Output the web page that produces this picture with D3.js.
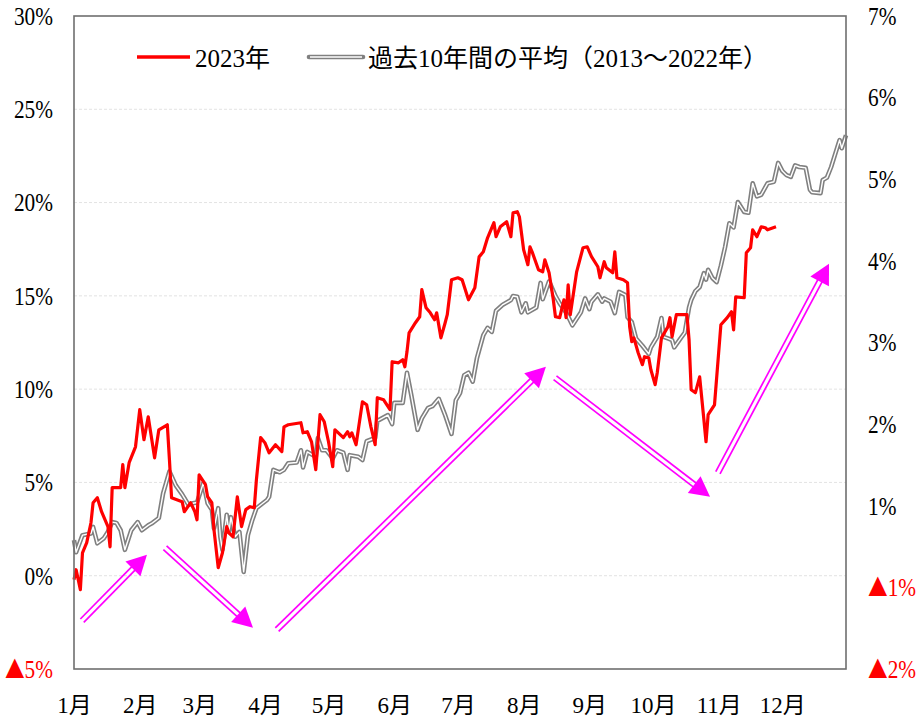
<!DOCTYPE html>
<html><head><meta charset="utf-8">
<script src="https://cdn.jsdelivr.net/npm/d3@7"></script>
<style>
html,body{margin:0;padding:0;background:#fff;}
svg{display:block;}
</style></head><body>
<svg id="chart" width="920" height="718"></svg>
<script>
// ---------- data ----------
const monthLabels = ["1月","2月","3月","4月","5月","6月","7月","8月","9月","10月","11月","12月"];
const leftTicks = [30,25,20,15,10,5,0,-5];
const rightTicks = [7,6,5,4,3,2,1,0,-1];
const rightTickLabels = ["7%","6%","5%","4%","3%","2%","1%","▲1%","▲2%"];
const seriesNames = ["2023年","過去10年間の平均（2013～2022年）"];

// 2023 (left axis, %), x = day of year (0 = Jan 1)
const redDays = [0,1,3,4,6,8,9,11,13,16,17,18,22,23,24,26,29,31,33,35,38,40,44,45,46,51,52,55,57,58,59,62,63,65,66,68,70,72,73,75,77,79,81,83,85,86,88,90,92,95,98,99,101,107,108,110,112,114,116,118,120,122,123,124,127,129,130,131,133,136,138,140,142,143,146,149,150,153,155,156,157,158,161,163,164,166,168,170,171,173,175,176,178,181,183,186,189,191,193,195,198,199,201,204,206,207,209,210,212,214,215,216,219,221,222,224,226,227,229,231,232,233,234,237,240,242,244,247,248,250,251,254,255,256,259,261,262,263,264,266,268,269,271,272,274,275,277,280,281,282,284,289,290,291,293,295,297,298,299,302,305,308,310,311,312,316,317,319,320,322,324,326,327,331];
const redValues = [-0.21,0.32,-0.75,1.23,1.77,2.84,3.91,4.18,3.43,2.63,
1.55,4.72,4.72,5.95,4.72,6.06,6.91,8.90,7.29,8.52,
6.32,7.82,8.09,6.22,4.18,3.97,3.43,3.91,3.43,3.00,
5.41,4.88,4.23,3.91,2.47,0.43,1.23,2.63,2.30,2.09,
4.23,2.63,3.54,3.70,3.64,5.14,7.40,7.13,6.59,7.02,
6.65,7.98,8.09,8.20,7.66,7.72,7.18,5.68,8.63,8.25,
7.18,5.84,7.82,7.72,7.40,7.72,7.45,7.66,7.02,9.32,
9.16,7.98,7.02,9.54,9.43,8.90,11.47,11.41,11.58,11.20,
12.00,13.02,13.56,13.88,15.33,14.36,14.09,13.72,14.09,12.75,
13.56,13.99,15.86,15.97,15.86,14.79,15.43,17.09,17.36,18.11,
18.92,18.17,18.70,18.97,18.17,19.45,19.51,19.24,17.47,16.67,
17.63,17.36,16.40,16.29,16.93,16.24,14.79,13.88,13.83,14.79,
13.83,15.59,13.99,16.29,17.58,17.63,17.10,16.56,15.97,16.83,
16.51,16.24,17.36,15.97,15.86,15.70,13.34,12.54,12.75,11.95,
11.31,11.74,11.68,11.04,10.24,10.88,12.75,13.34,13.83,12.81,
13.99,13.99,12.65,9.97,9.81,10.66,8.36,7.18,8.63,9.16,
13.45,13.83,14.15,13.18,14.95,14.90,17.31,17.58,18.54,18.17,
18.70,18.65,18.54,18.70];

// 10-year average (right axis)
const avgDays = [0,1,4,8,9,11,14,16,18,20,
22,24,27,30,32,35,37,40,42,45,
48,51,54,56,58,61,63,65,66,68,
69,70,72,73,74,76,78,80,82,84,
86,89,91,92,94,97,99,101,105,107,
108,110,114,115,117,119,122,124,127,129,
130,134,136,138,142,143,148,150,151,155,
157,159,162,164,167,169,172,175,178,180,
182,184,186,188,190,193,195,197,199,202,
206,207,209,211,213,214,218,220,221,224,
227,229,232,235,239,241,243,244,247,249,
250,253,255,257,260,261,263,265,268,271,
272,275,277,278,280,282,283,286,288,290,
291,293,295,297,298,299,301,303,305,307,
309,311,313,314,316,318,320,322,324,327,
330,332,334,336,338,340,342,345,347,348,
352,353,355,357,360,361,362,364];
const avgValues = [0.58,0.43,0.64,0.66,0.74,0.54,0.60,0.68,0.80,0.79,
0.70,0.46,0.70,0.80,0.70,0.76,0.79,0.85,1.15,1.42,
1.25,1.14,1.01,1.03,1.04,1.28,1.03,0.95,0.72,0.97,
0.62,0.46,0.89,0.68,0.86,0.62,0.68,0.19,0.64,0.82,
0.97,1.03,1.07,1.11,1.44,1.41,1.44,1.52,1.53,1.68,
1.47,1.66,1.60,1.83,1.68,1.68,1.58,1.68,1.65,1.44,
1.62,1.60,1.56,1.79,1.83,2.04,2.11,2.00,2.26,2.26,
2.63,2.36,1.93,2.07,2.20,2.22,2.31,2.11,1.88,2.29,
2.38,2.60,2.63,2.52,2.81,3.09,3.18,3.13,3.39,3.46,
3.52,3.57,3.56,3.37,3.48,3.37,3.43,3.73,3.53,3.75,
3.57,3.48,3.37,3.21,3.37,3.54,3.41,3.50,3.59,3.50,
3.54,3.50,3.36,3.62,3.58,3.31,3.25,3.05,2.96,2.86,
2.94,3.07,3.30,3.07,3.05,3.03,2.94,3.05,3.12,3.43,
3.52,3.63,3.68,3.85,3.77,3.89,3.79,3.74,3.94,4.17,
4.46,4.41,4.72,4.68,4.60,4.59,4.95,4.79,4.81,4.95,
4.97,5.20,5.10,5.05,5.03,5.17,5.15,5.14,4.87,4.84,
4.83,4.99,5.02,5.15,5.40,5.48,5.38,5.54];

// trend arrows (day of year, left-axis %)
const arrowFromDay = [3.8, 42.9, 95.7, 226.8, 303.6];
const arrowFromValue = [-2.41, 1.50, -2.89, 10.61, 5.52];
const arrowToDay = [34.4, 84.4, 222.5, 299.9, 356.0];
const arrowToValue = [1.13, -2.79, 11.20, 4.23, 16.72];

// ---------- chart ----------
const W = 920, H = 718;
const M = {left:74, top:16, right:74, bottom:49};
const FONT = "'Liberation Serif','Noto Sans CJK JP',serif";
const CJK = "'Noto Sans CJK JP',sans-serif";
const RED = "#ff0000", GRAY = "#808080", MAG = "#ff00ff";
const base = new Date(2023,0,1);
const dayToDate = d => new Date(base.getTime() + d*86400000);

const svg = d3.select("#chart");
const x = d3.scaleTime().domain([dayToDate(0), dayToDate(364)]).range([M.left, W-M.right]);
const yL = d3.scaleLinear().domain([-5,30]).range([H-M.bottom, M.top]);
const yR = d3.scaleLinear().domain([-1,7]).range([H-M.bottom, M.top]);

// gridlines
svg.append("g").selectAll("line").data(leftTicks.filter(v => v>-5 && v<30)).join("line")
  .attr("x1", M.left).attr("x2", W-M.right)
  .attr("y1", d=>yL(d)).attr("y2", d=>yL(d))
  .attr("stroke", "#e3e3e3").attr("stroke-width", 1).attr("stroke-dasharray","3,2");

const SX = 0.82;
const fmtL = v => v < 0 ? "▲" + Math.abs(v) + "%" : v + "%";

// render "▲" in a full-width CJK glyph
function styleTicks(sel) {
  sel.each(function() {
    const t = d3.select(this);
    const s = t.text();
    t.attr("font-family", FONT).attr("font-size", 26).attr("transform", `scale(${SX},1)`);
    if (s.startsWith("▲")) {
      t.text("").attr("fill", RED);
      t.append("tspan").attr("font-family", CJK).attr("font-size", 24).text("▲");
      t.append("tspan").text(s.slice(1));
    } else {
      t.attr("fill", "#000");
    }
  });
}

// left axis
const gL = svg.append("g").attr("transform", `translate(${M.left},0)`)
  .call(d3.axisLeft(yL).tickValues(leftTicks).tickFormat(fmtL).tickSize(0).tickPadding(21/SX));
gL.select(".domain").remove();
styleTicks(gL.selectAll("text"));

// right axis
const gR = svg.append("g").attr("transform", `translate(${W-M.right},0)`)
  .call(d3.axisRight(yR).tickValues(rightTicks).tickFormat((d,i)=>rightTickLabels[i]).tickSize(0).tickPadding(22/SX));
gR.select(".domain").remove();
styleTicks(gR.selectAll("text"));

// bottom axis (months)
const monthStarts = d3.timeMonth.range(new Date(2023,0,1), new Date(2024,0,1));
const gB = svg.append("g").attr("transform", `translate(0,${H-M.bottom})`)
  .call(d3.axisBottom(x).tickValues(monthStarts).tickFormat((d,i)=>monthLabels[i]).tickSize(0).tickPadding(28));
gB.select(".domain").remove();
gB.selectAll("text").attr("font-family", FONT).attr("font-size", 23).attr("fill", "#000");

// lines
const avgData = avgDays.map((d,i)=>({d, v:avgValues[i]}));
const redData = redDays.map((d,i)=>({d, v:redValues[i]}));
const lineR = d3.line().x(p=>x(dayToDate(p.d))).y(p=>yR(p.v));
const lineL = d3.line().x(p=>x(dayToDate(p.d))).y(p=>yL(p.v));

svg.append("path").datum(avgData).attr("d", lineR).attr("fill","none")
  .attr("stroke", GRAY).attr("stroke-width", 4.6).attr("stroke-linejoin","round");
svg.append("path").datum(avgData).attr("d", lineR).attr("fill","none")
  .attr("stroke", "#fff").attr("stroke-width", 1.4).attr("stroke-linejoin","round");
svg.append("path").datum(redData).attr("d", lineL).attr("fill","none")
  .attr("stroke", RED).attr("stroke-width", 3.2).attr("stroke-linejoin","round");

// arrows
const gA = svg.append("g");
arrowFromDay.forEach((fd,i)=>{
  const x1 = x(dayToDate(fd)), y1 = yL(arrowFromValue[i]);
  const x2 = x(dayToDate(arrowToDay[i])), y2 = yL(arrowToValue[i]);
  const dx = x2-x1, dy = y2-y1, L = Math.hypot(dx,dy);
  const ux = dx/L, uy = dy/L, nx = -uy, ny = ux;
  const headL = 20, headW = 10.5, off = 2.4;
  const bx = x2 - ux*headL, by = y2 - uy*headL;
  [-1,1].forEach(s=>{
    gA.append("line")
      .attr("x1", x1 + nx*off*s).attr("y1", y1 + ny*off*s)
      .attr("x2", bx + ux*3 + nx*off*s).attr("y2", by + uy*3 + ny*off*s)
      .attr("stroke", MAG).attr("stroke-width", 1.7);
  });
  gA.append("path")
    .attr("d", `M${x2},${y2}L${bx+nx*headW},${by+ny*headW}L${bx-nx*headW},${by-ny*headW}Z`)
    .attr("fill", MAG);
});

// frame
svg.append("rect").attr("x", M.left).attr("y", M.top)
  .attr("width", W-M.left-M.right).attr("height", H-M.top-M.bottom)
  .attr("fill","none").attr("stroke","#6f6f6f").attr("stroke-width",1.6);

// legend
const lg = svg.append("g");
lg.append("line").attr("x1",137).attr("x2",190).attr("y1",57).attr("y2",57)
  .attr("stroke",RED).attr("stroke-width",3.5);
lg.append("text").attr("x",195).attr("y",67).text(seriesNames[0])
  .attr("font-family",FONT).attr("font-size",25).attr("fill","#000");
lg.append("line").attr("x1",309).attr("x2",363).attr("y1",57).attr("y2",57)
  .attr("stroke",GRAY).attr("stroke-width",4.6).attr("stroke-linecap","round");
lg.append("line").attr("x1",310).attr("x2",362).attr("y1",57).attr("y2",57)
  .attr("stroke","#fff").attr("stroke-width",1.4);
lg.append("text").attr("x",368).attr("y",67).text(seriesNames[1])
  .attr("font-family",FONT).attr("font-size",25).attr("fill","#000");
</script>
</body></html>
